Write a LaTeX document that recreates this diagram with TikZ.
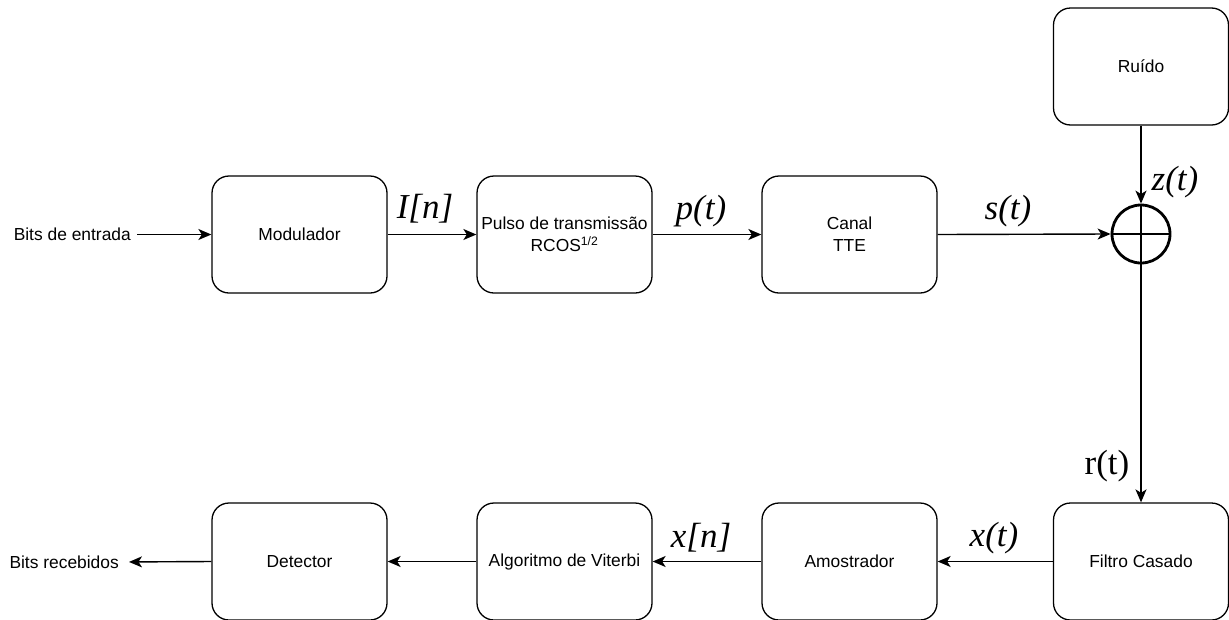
\documentclass[tikz,border=0pt]{standalone}
\usepackage{fontspec}
\setmainfont{Liberation Sans}
\newfontfamily\tms{Liberation Serif}
\usetikzlibrary{arrows.meta}
\begin{document}
\begin{tikzpicture}[x=1pt,y=-1pt,
  blk/.style={draw,line width=1.3pt,rounded corners=17pt,minimum width=175pt,minimum height=117pt,inner sep=0pt,align=center,font=\fontsize{17.4}{22}\selectfont},
  txt/.style={inner sep=0pt,font=\fontsize{17.4}{22}\selectfont},
  sig/.style={inner sep=0pt,font=\tms\fontsize{35}{40}\selectfont\itshape},
  sigr/.style={inner sep=0pt,font=\tms\fontsize{35}{40}\selectfont},
  con/.style={line width=1.4pt,-{Stealth[length=13pt,width=11pt,inset=3.5pt]}}]
\useasboundingbox (0,0) rectangle (1229,619);
\node[blk] (mod) at (299.5,234.5) {Modulador};
\node[blk] (pul) at (564.5,234.5) {Pulso de transmissão\\RCOS\textsuperscript{1/2}};
\node[blk] (can) at (849.5,234.5) {Canal\\TTE};
\node[blk] (rui) at (1141,66.5) {Ruído};
\node[draw,circle,line width=2.8pt,minimum size=58pt,inner sep=0pt] (sum) at (1141,234) {};
\draw[line width=2.5pt] (sum.north) -- (sum.south) (sum.west) -- (sum.east);
\node[blk] (fil) at (1141,561.5) {Filtro Casado};
\node[blk] (amo) at (849.5,561.5) {Amostrador};
\node[blk] (vit) at (564.5,561.5) {Algoritmo de Viterbi};
\node[blk] (det) at (299.5,561.5) {Detector};
\node[txt,anchor=east] (in) at (131,234.5) {Bits de entrada};
\node[txt,anchor=east] (out) at (119,562) {Bits recebidos};
\draw[con,shorten <=6pt] (in.east) -- (mod.west);
\draw[con] (mod.east) -- (pul.west);
\draw[con] (pul.east) -- (can.west);
\draw[con] (can.east) -- (sum.west);
\draw[con] (rui.south) -- (sum.north);
\draw[con] (sum.south) -- (fil.north);
\draw[con] (fil.west) -- (amo.east);
\draw[con] (amo.west) -- (vit.east);
\draw[con] (vit.west) -- (det.east);
\draw[con,shorten >=10pt] (det.west) -- (out.east);
\node[sig] (lI) at (425,209) {I[n]};
\node[sig] (lp) at (701,211) {p(t)};
\node[sig] (ls) at (1008,211) {s(t)};
\node[sig] (lz) at (1175,182) {z(t)};
\node[sigr] (lr) at (1107,466) {r(t)};
\node[sig] (lxn) at (701,538) {x[n]};
\node[sig] (lxt) at (994,538) {x(t)};
\end{tikzpicture}
\end{document}
